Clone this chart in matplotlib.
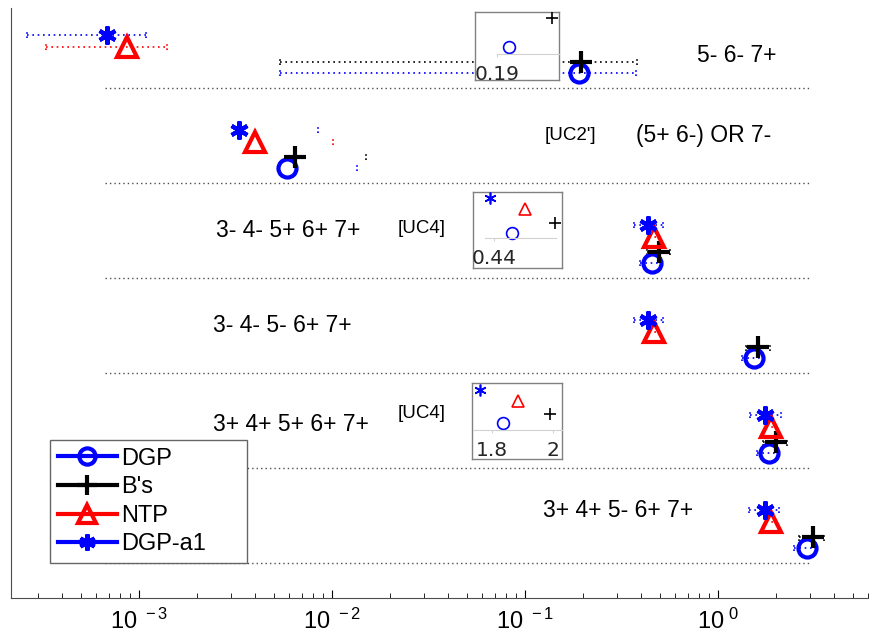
import numpy as np
import matplotlib
matplotlib.use('Agg')
import matplotlib.pyplot as plt
from matplotlib.lines import Line2D
from matplotlib.ticker import FuncFormatter

plt.rcParams['font.family'] = ['Liberation Sans', 'DejaVu Sans']
plt.rcParams['mathtext.fontset'] = 'custom'
plt.rcParams['mathtext.rm'] = 'Liberation Sans Narrow'
plt.rcParams['mathtext.default'] = 'regular'

nan = np.nan

# rows from top to bottom
row_labels = ['5- 6- 7+', '(5+ 6-) OR 7-', '3- 4- 5+ 6+ 7+',
              '3- 4- 5- 6+ 7+', '3+ 4+ 5+ 6+ 7+', '3+ 4+ 5- 6+ 7+']
row_tags = ['', "[UC2']", '[UC4]', '', '[UC4]', '']

names = ['DGP', "B's", 'NTP', 'DGP-a1']

dgp = [0.191, 5.85e-3, 0.456, 1.53, 1.836, 2.9]
dgp_lo = [5.38e-3, nan, 0.395, 1.33, 1.59, 2.48]
dgp_hi = [0.376, 1.35e-2, 0.514, 1.72, 2.07, 3.27]

bs = [0.1944, 6.43e-3, 0.496, 1.62, 1.99, 3.1]
bs_lo = [5.38e-3, nan, 0.430, 1.40, 1.72, 2.62]
bs_hi = [0.380, 1.50e-2, 0.565, 1.85, 2.27, 3.53]

ntp = [8.7e-4, 3.99e-3, 0.468, 0.468, 1.885, 1.885]
ntp_lo = [3.30e-4, nan, 0.441, 0.441, 1.78, 1.78]
ntp_hi = [1.40e-3, 1.01e-2, 0.497, 0.497, 2.0, 2.0]

a1 = [6.8e-4, 3.3e-3, 0.436, 0.436, 1.761, 1.761]
a1_lo = [2.63e-4, nan, 0.365, 0.365, 1.47, 1.44]
a1_hi = [1.09e-3, 8.46e-3, 0.521, 0.521, 2.11, 2.08]

vals = [dgp, bs, ntp, a1]
lows = [dgp_lo, bs_lo, ntp_lo, a1_lo]
highs = [dgp_hi, bs_hi, ntp_hi, a1_hi]

colors = ['blue', 'black', 'red', 'blue']
markers = ['o', '+', '^', (6, 2, 0)]
msizes = [13, 16, 15, 13]
offsets = [-0.34, -0.23, -0.07, 0.06]

W, H = 869, 643


def px_rect(x0, y0, x1, y1):
    return [x0 / W, 1 - y1 / H, (x1 - x0) / W, (y1 - y0) / H]


fig = plt.figure(figsize=(W / 100, H / 100), dpi=100)
ax = fig.add_axes(px_rect(11, 8, 869, 598))
ax.set_xscale('log')
ax.set_xlim(2.17e-4, 6.06)
ax.set_ylim(0.13, 6.34)

rows = np.arange(len(row_labels), 0, -1)

# row separators
ax.hlines(rows - 0.5, 6.7e-4, 3.0, colors='0.3', linestyles=(0, (1, 2.2)), lw=1)

for v, lo, hi, c, m, ms, off in zip(vals, lows, highs, colors, markers, msizes, offsets):
    v, lo, hi = np.array(v), np.array(lo), np.array(hi)
    y = rows + off
    ok = ~np.isnan(lo)
    ax.hlines(y[ok], lo[ok], hi[ok], colors=c, linestyles=(0, (1, 2.2)), lw=1.2)
    ax.vlines(lo[ok], y[ok] - 0.035, y[ok] + 0.035, colors=c, linestyles=(0, (1, 1.5)), lw=1.2)
    ax.vlines(hi, y - 0.035, y + 0.035, colors=c, linestyles=(0, (1, 1.5)), lw=1.2)
    ax.plot(v, y, ls='none', marker=m, ms=ms, mew=3, mfc='none', mec=c, color=c, zorder=4)

# row texts
label_x = [0.778, 0.376, 2.5e-3, 2.43e-3, 2.43e-3, 0.124]
label_dy = [-0.16, 0.0, 0.0, 0.0, -0.04, 0.05]
tag_x = [None, 0.127, 0.022, None, 0.022, None]
tag_dy = [0, 0.0, 0.02, 0, 0.07, 0]
for r, lab, lx, ldy, tag, tx, tdy in zip(rows, row_labels, label_x, label_dy, row_tags, tag_x, tag_dy):
    ax.text(lx, r + ldy, lab, fontsize=16.5, va='center', ha='left')
    if tag:
        ax.text(tx, r + tdy, tag, fontsize=13.5, va='center', ha='left')

ax.set_yticks([])
for s in ['top', 'right']:
    ax.spines[s].set_visible(False)
for s in ['left', 'bottom']:
    ax.spines[s].set_color('0.3')
ax.xaxis.set_major_formatter(FuncFormatter(
    lambda x, pos: r'$\mathregular{10^{\ %d}}$' % round(np.log10(x))))
ax.tick_params(axis='x', which='both', direction='in', top=False, labelsize=17, pad=8)
ax.tick_params(axis='x', which='major', length=6)
ax.tick_params(axis='x', which='minor', length=3.5)

handles = [Line2D([], [], color=c, lw=3, marker=m, ms=ms * 0.9, mew=3, mfc='none')
           for c, m, ms in zip(colors, markers, msizes)]
leg = ax.legend(handles, names, loc='lower left', mode='expand',
                bbox_to_anchor=((50 - 11) / 858, (598 - 563) / 590, 197 / 858, 0.2),
                fontsize=17, handlelength=2.5, handletextpad=0.2, labelspacing=0.28,
                borderpad=0.32, borderaxespad=0, fancybox=False, framealpha=1)
leg.get_frame().set_edgecolor('0.4')
leg.get_frame().set_linewidth(1)

# zoomed insets
inset_rows = [0, 2, 4]
inset_boxes = [(475, 12, 559, 80), (473, 192, 562, 268), (472, 383, 562, 459)]
inset_inner = [(497, 12, 559, 54), (485, 192, 556, 238), (473, 383, 562, 430)]
inset_xlims = [(0.19, 0.195), (0.4314, 0.4969), (1.738, 2.03)]
inset_ylims = [(-0.367, -0.207), (-0.397, 0.129), (-0.425, 0.145)]
inset_ticks = [[0.19], [0.44], [1.8, 2.0]]
inset_ticklabels = [['0.19'], ['0.44'], ['1.8', '2']]

for ri, box, inner, xl, yl, tk, tl in zip(inset_rows, inset_boxes, inset_inner,
                                        inset_xlims, inset_ylims, inset_ticks, inset_ticklabels):
    bx = fig.add_axes(px_rect(*box))
    bx.set_xticks([])
    bx.set_yticks([])
    for s in bx.spines.values():
        s.set_color('0.5')
        s.set_linewidth(1)
    ix = fig.add_axes(px_rect(*inner))
    ix.patch.set_alpha(0)
    r = rows[ri]
    for v, c, m, off in zip(vals, colors, markers, offsets):
        if xl[0] <= v[ri] <= xl[1]:
            ix.plot([v[ri]], [r + off], ls='none', marker=m, ms=8.5, mew=1.2,
                    mfc='none', mec=c, clip_on=False)
    ix.set_xlim(*xl)
    ix.set_ylim(r + yl[0], r + yl[1])
    ix.set_yticks([])
    ix.set_xticks(tk)
    ix.set_xticklabels(tl)
    for s in ['top', 'left', 'right']:
        ix.spines[s].set_visible(False)
    ix.spines['bottom'].set_color('0.82')
    ix.spines['bottom'].set_linewidth(0.8)
    ix.tick_params(axis='x', length=2, color='0.82', labelsize=14.5,
                   labelcolor='0.15', pad=6, labelfontfamily='DejaVu Sans')

fig.savefig('out.png', dpi=100)
